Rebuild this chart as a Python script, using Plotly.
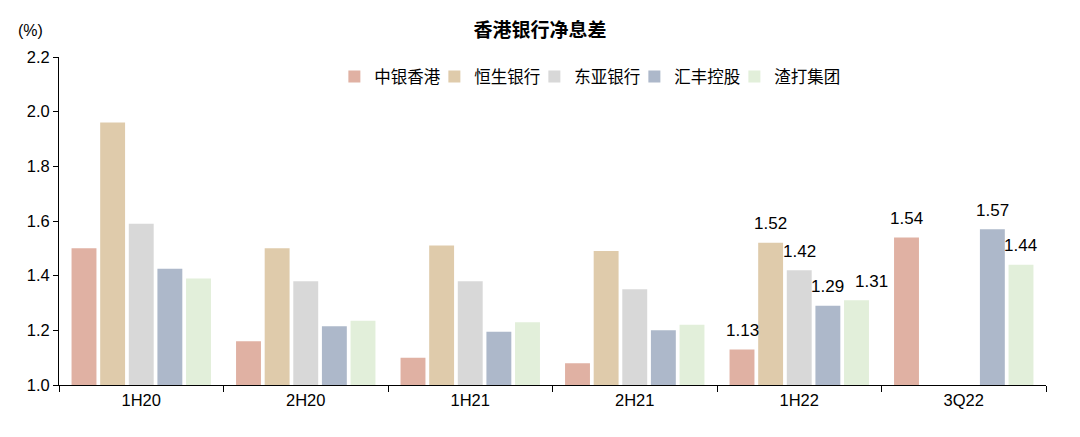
import plotly.graph_objects as go

categories = ["1H20", "2H20", "1H21", "2H21", "1H22", "3Q22"]
series_names = ["中银香港", "恒生银行", "东亚银行", "汇丰控股", "渣打集团"]
boc_hk = [1.50, 1.16, 1.10, 1.08, 1.13, 1.54]
hang_seng = [1.96, 1.50, 1.51, 1.49, 1.52, None]
bea = [1.59, 1.38, 1.38, 1.35, 1.42, None]
hsbc = [1.425, 1.215, 1.195, 1.20, 1.29, 1.57]
stanchart = [1.39, 1.235, 1.23, 1.22, 1.31, 1.44]
labeled_categories = ["1H22", "3Q22"]
y_ticks = [1.0, 1.2, 1.4, 1.6, 1.8, 2.0, 2.2]

colors = ["#E0B1A3", "#DFCBAB", "#D8D8D8", "#ADB8CA", "#E2EFDA"]
all_series = [boc_hk, hang_seng, bea, hsbc, stanchart]
label_nudge_px = {("1H22", "渣打集团"): 15}

FONT = "Liberation Sans, Arial, Noto Sans CJK SC"
CJK = "Noto Sans CJK SC"

W, H = 1080, 437
ML, MR, MT, MB = 51, 42, 49, 60
BARGAP = 0.13
plot_w = W - ML - MR
slot_px = plot_w / len(categories) * (1 - BARGAP) / len(all_series)

fig = go.Figure()
for name, vals, col in zip(series_names, all_series, colors):
    fig.add_trace(go.Bar(
        name=name, x=categories, y=vals, marker_color=col,
        marker_line_width=0,
    ))

# invisible spacer legend entry so the last legend label is not clipped
fig.add_trace(go.Scatter(
    x=[None], y=[None], mode="markers", name=" ",
    marker=dict(color="rgba(0,0,0,0)", size=1), hoverinfo="skip", showlegend=True,
))

# value labels above bars for the labeled periods
for i, (name, vals) in enumerate(zip(series_names, all_series)):
    for c, v in zip(categories, vals):
        if c in labeled_categories and v is not None:
            fig.add_annotation(
                x=c, y=v, xref="x", yref="y", text=f"{v:.2f}",
                showarrow=False, xanchor="center", yanchor="middle",
                xshift=(i - (len(all_series) - 1) / 2) * slot_px + label_nudge_px.get((c, name), 0),
                yshift=19,
                font=dict(size=17, family=FONT, color="#000000"),
            )

fig.update_layout(
    width=W, height=H,
    margin=dict(l=ML, r=MR, t=MT, b=MB),
    plot_bgcolor="white", paper_bgcolor="white",
    barmode="group", bargap=BARGAP, bargroupgap=0.13,
    font=dict(family=FONT, size=16, color="#000000"),
    title=dict(text="<b>香港银行净息差</b>", x=(540 - 8) / W, xanchor="center",
               y=1 - (30 - 8) / H, yanchor="middle", font=dict(size=19, family=CJK)),
    legend=dict(orientation="h", x=0.279, xanchor="left", y=0.94, yanchor="middle",
                font=dict(size=16.5, family=CJK), itemwidth=30,
                entrywidth=55, entrywidthmode="pixels",
                bgcolor="rgba(0,0,0,0)", traceorder="normal"),
    showlegend=True,
)
fig.update_xaxes(
    showline=True, linecolor="#000000", linewidth=1,
    ticks="outside", tickson="boundaries", ticklen=6, tickcolor="#000000",
    showgrid=False, tickfont=dict(size=16.5, family=FONT),
)
fig.update_yaxes(
    range=[1.0, 2.2], tickvals=y_ticks, ticktext=[f"{t:.1f}" for t in y_ticks],
    showline=True, linecolor="#000000", linewidth=1,
    ticks="outside", ticklen=5, tickcolor="#000000",
    showgrid=False, zeroline=False, tickfont=dict(size=16.5, family=FONT),
)
fig.add_annotation(text="(%)", xref="paper", yref="paper", x=-0.029, y=1.082,
                   xanchor="center", yanchor="middle", showarrow=False,
                   font=dict(size=16, family=FONT))
fig.write_html("out.html")
